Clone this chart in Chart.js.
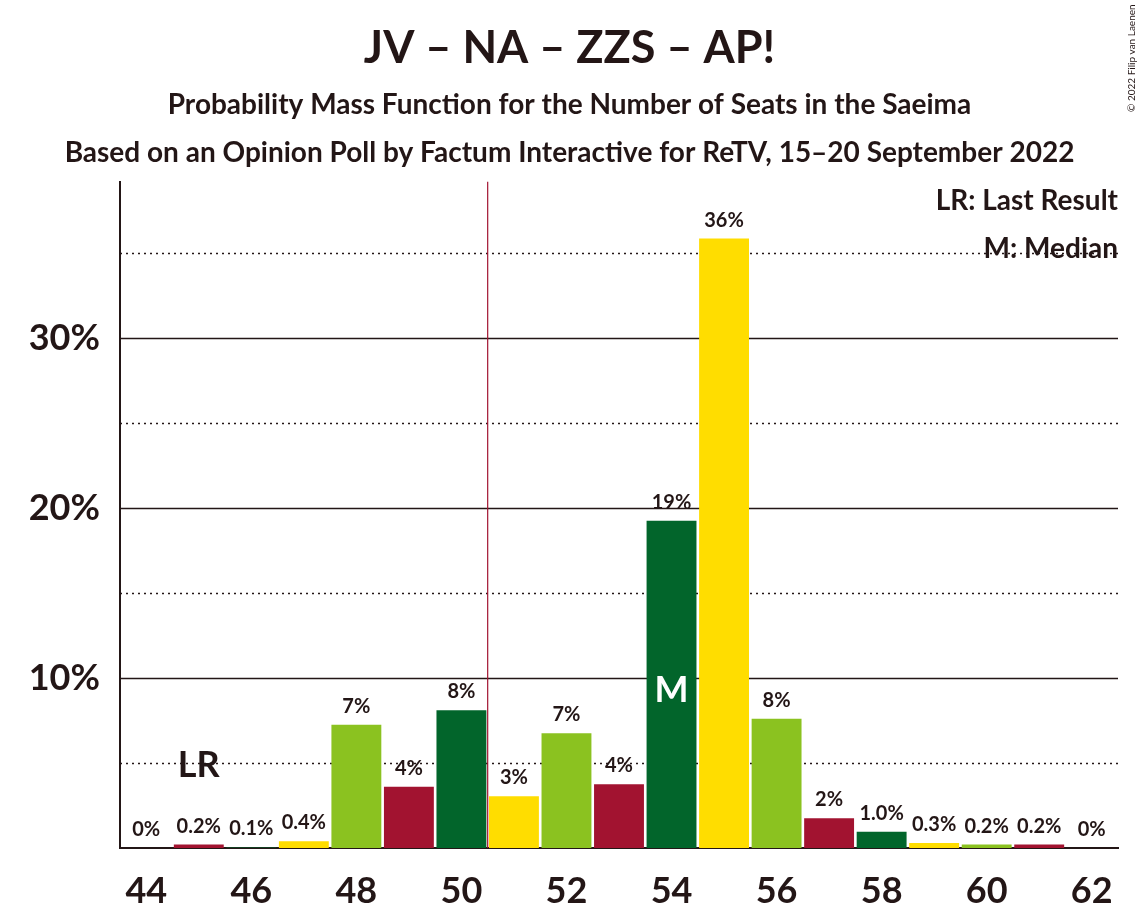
<!DOCTYPE html>
<html lang="en">
<head>
<meta charset="UTF-8">
<title>JV – NA – ZZS – AP!</title>
<script src="https://cdn.jsdelivr.net/npm/chart.js@4"></script>
<style>
  body { margin: 0; background: #fff; }
  #wrap { width: 1139px; height: 924px; position: relative; }
</style>
</head>
<body>
<div id="wrap"><canvas id="seatsChart"></canvas></div>
<script>
// data
const seats = [44, 45, 46, 47, 48, 49, 50, 51, 52, 53, 54, 55, 56, 57, 58, 59, 60, 61, 62];
const probability = [0, 0.2, 0.03, 0.4, 7.25, 3.6, 8.1, 3.05, 6.75, 3.75, 19.25, 35.85, 7.6, 1.75, 0.95, 0.3, 0.2, 0.2, 0];
const valueLabels = ['0%', '0.2%', '0.1%', '0.4%', '7%', '4%', '8%', '3%', '7%', '4%', '19%', '36%', '8%', '2%', '1.0%', '0.3%', '0.2%', '0.2%', '0%'];
const partyColours = ['#02652B', '#FFDD00', '#8BC220', '#A21330'];
const lastResult = 45;
const median = 54;
const majorityLine = 50.5;

const ink = '#231616';
const font = 'Lato, "Open Sans", sans-serif';

const barColours = seats.map(s => partyColours[((s - 46) % 4 + 4) % 4]);

const extras = {
  id: 'extras',
  beforeDatasetsDraw(chart) {
    const { ctx, chartArea: a, scales: { x, y } } = chart;
    ctx.save();
    for (let v = 5; v < 40; v += 5) {
      const py = Math.round(y.getPixelForValue(v)) + 0.5;
      ctx.beginPath();
      ctx.setLineDash(v % 10 === 0 ? [] : [2, 4]);
      ctx.lineWidth = 1.6;
      ctx.strokeStyle = ink;
      ctx.moveTo(a.left, py);
      ctx.lineTo(a.right, py);
      ctx.stroke();
    }
    ctx.setLineDash([]);
    // majority line
    const i = seats.indexOf(Math.floor(majorityLine));
    const mx = (x.getPixelForValue(i) + x.getPixelForValue(i + 1)) / 2;
    ctx.strokeStyle = '#A21330';
    ctx.lineWidth = 1.2;
    ctx.beginPath();
    ctx.moveTo(mx, a.top);
    ctx.lineTo(mx, a.bottom);
    ctx.stroke();
    ctx.restore();
  },
  afterDatasetsDraw(chart) {
    const { ctx, chartArea: a, scales: { x, y } } = chart;
    ctx.save();
    ctx.textAlign = 'center';
    ctx.textBaseline = 'alphabetic';
    ctx.fillStyle = ink;
    ctx.font = 'bold 20px ' + font;
    probability.forEach((v, i) => {
      ctx.fillText(valueLabels[i], x.getPixelForValue(i), y.getPixelForValue(v) - 12);
    });
    // LR marker
    ctx.font = 'bold 36px ' + font;
    ctx.fillText('LR', x.getPixelForValue(seats.indexOf(lastResult)), y.getPixelForValue(4.2));
    // median marker
    ctx.fillStyle = '#fff';
    ctx.fillText('M', x.getPixelForValue(seats.indexOf(median)), y.getPixelForValue(8.6));
    // legend
    ctx.fillStyle = ink;
    ctx.textAlign = 'right';
    ctx.font = 'bold 28px ' + font;
    ctx.fillText('LR: Last Result', a.right, 210);
    ctx.fillText('M: Median', a.right, 258);
    // copyright
    ctx.font = '10px ' + font;
    ctx.textAlign = 'left';
    ctx.translate(1135, 112);
    ctx.rotate(-Math.PI / 2);
    ctx.fillText('© 2022 Filip van Laenen', 0, 0);
    ctx.restore();
  }
};

new Chart(document.getElementById('seatsChart'), {
  type: 'bar',
  data: {
    labels: seats,
    datasets: [{
      data: probability,
      backgroundColor: barColours,
      borderWidth: 0,
      barPercentage: 0.95,
      categoryPercentage: 1
    }]
  },
  options: {
    responsive: true,
    maintainAspectRatio: false,
    animation: false,
    layout: { padding: { top: 0, left: 21, right: 21, bottom: 0 } },
    plugins: {
      legend: { display: false },
      tooltip: { enabled: false },
      title: {
        display: true,
        text: 'JV – NA – ZZS – AP!',
        color: ink,
        font: { family: font, size: 45, weight: 'bold', lineHeight: 1.17 },
        padding: { top: 22, bottom: 4 }
      },
      subtitle: {
        display: true,
        text: ['Probability Mass Function for the Number of Seats in the Saeima',
               'Based on an Opinion Poll by Factum Interactive for ReTV, 15–20 September 2022'],
        color: ink,
        font: { family: font, size: 28, weight: 'bold', lineHeight: 1.714 },
        padding: { top: 2, bottom: 5 }
      }
    },
    scales: {
      x: {
        grid: { display: false, drawTicks: false },
        border: { display: true, color: ink, width: 2 },
        ticks: {
          color: ink,
          padding: 22,
          maxRotation: 0,
          autoSkip: false,
          font: { family: font, size: 36, weight: 'bold' },
          callback: (v, i) => (seats[i] % 2 === 0 ? String(seats[i]) : '')
        },
        afterFit: s => { s.height = 76; }
      },
      y: {
        min: 0,
        max: 39.2,
        grid: { display: false, drawTicks: false },
        border: { display: true, color: ink, width: 2 },
        ticks: {
          stepSize: 5,
          color: ink,
          padding: 20,
          font: { family: font, size: 36, weight: 'bold' },
          callback: v => (v > 0 && v % 10 === 0 ? v + '%' : '')
        },
        afterFit: s => { s.width = 99; }
      }
    }
  },
  plugins: [extras]
});
</script>
</body>
</html>
